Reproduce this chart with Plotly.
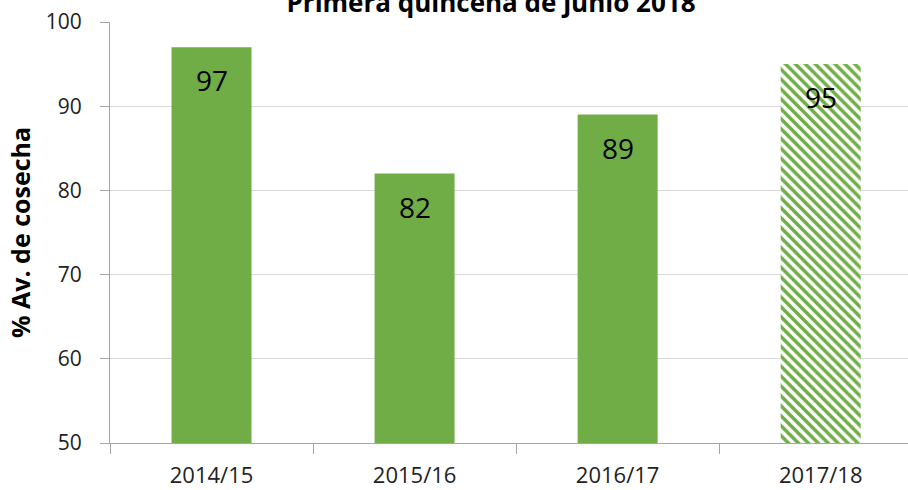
import plotly.graph_objects as go

categories = ["2014/15", "2015/16", "2016/17", "2017/18"]
values = [97, 82, 89, 95]
patterned = [False, False, False, True]
title_text = "Primera quincena de junio 2018"
y_title = "% Av. de cosecha"
y_ticks = [50, 60, 70, 80, 90, 100]

green = "#70AD47"
font_family = "Open Sans"

fig = go.Figure()
fig.add_trace(go.Bar(
    x=categories,
    y=values,
    width=0.394,
    marker=dict(
        color=green,
        line=dict(width=0),
        pattern=dict(
            shape=["\\" if p else "" for p in patterned],
            fillmode="replace",
            fgcolor=green,
            bgcolor="white",
            size=7,
            solidity=0.5,
        ),
    ),
    hoverinfo="skip",
))

for c, v in zip(categories, values):
    fig.add_annotation(
        x=c, y=v, xref="x", yref="y",
        text=str(v), showarrow=False,
        yanchor="top", yshift=-12,
        font=dict(family=font_family, size=28, color="black"),
    )

fig.update_layout(
    width=908, height=490,
    margin=dict(l=110, r=0, t=22, b=47, autoexpand=False),
    paper_bgcolor="white", plot_bgcolor="white",
    showlegend=False,
    title=dict(
        text="<b>" + title_text + "</b>",
        x=491 / 908, xanchor="center",
        y=1 - 3 / 490, yanchor="middle", yref="container",
        font=dict(family=font_family, size=26, color="black"),
    ),
    font=dict(family=font_family, color="#222"),
)

fig.update_xaxes(
    type="category",
    range=[-0.5, 3.43],
    showline=True, linecolor="#a6a6a6", linewidth=1,
    ticks="outside", ticklen=10, tickcolor="#a6a6a6",
    tickson="boundaries",
    tickfont=dict(family=font_family, size=22, color="#222"),
    showgrid=False,
    ticklabelstandoff=13,
    automargin=False,
)
fig.update_yaxes(
    range=[50, 100],
    tickvals=y_ticks,
    showline=True, linecolor="#a6a6a6", linewidth=1,
    ticks="outside", ticklen=9, tickcolor="#a6a6a6",
    showgrid=True, gridcolor="#d9d9d9", gridwidth=1,
    zeroline=False,
    tickfont=dict(family=font_family, size=21, color="#222"),
    ticklabelstandoff=14,
    automargin=False,
    title=dict(
        text="<b>" + y_title + "</b>",
        font=dict(family=font_family, size=25, color="black"),
        standoff=8,
    ),
)

fig.write_html(
    "out.html",
    config={"displayModeBar": False, "staticPlot": True},
    post_script="document.body.style.margin='0';document.body.style.overflow='hidden';",
)
